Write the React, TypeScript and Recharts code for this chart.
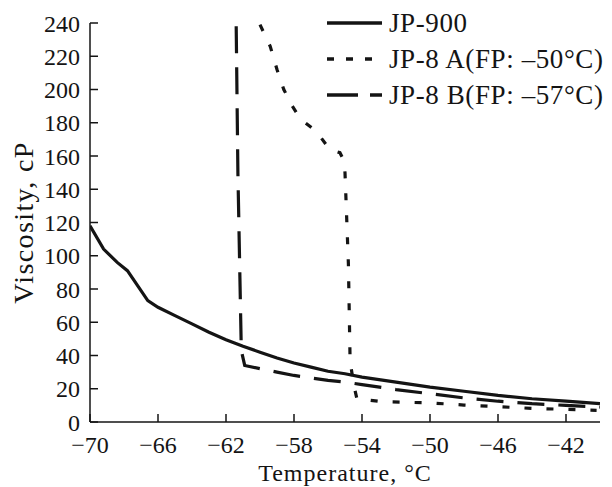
import React from 'react';
import { Label, Legend, Line, LineChart, XAxis, YAxis } from 'recharts';

const xTicks = [-70, -66, -62, -58, -54, -50, -46, -42];
const yTicks = [0, 20, 40, 60, 80, 100, 120, 140, 160, 180, 200, 220, 240];

const jp900Temp = [-70, -69.2, -68.4, -67.8, -67.2, -66.6, -66, -65, -64, -63, -62, -61, -60, -59, -58, -57, -56, -55, -54, -52, -50, -48, -46, -44, -42, -40];
const jp900Visc = [118, 104, 96, 91, 82, 73, 69, 64, 59, 54, 49.5, 45.5, 42, 38.5, 35.5, 33, 30.5, 29, 27, 24, 21, 18.5, 16, 14, 12.5, 11];

const jp8aTemp = [-60, -59.4, -59, -58.6, -58.1, -57.6, -56.7, -55.9, -55.3, -55.1, -55, -54.8, -54.7, -54.5, -54.3, -52.8, -50, -48, -46, -44, -42, -40.2];
const jp8aVisc = [239, 226, 212, 200, 190, 182, 175, 164, 162, 158, 150, 95, 37, 23, 14, 12.2, 11.5, 10.2, 9.2, 8.2, 7.6, 7];

const jp8bTemp = [-61.4, -61.3, -61.1, -60.9, -59, -58, -57, -56, -55, -54, -52, -50, -48, -46, -44, -42, -40];
const jp8bVisc = [238, 150, 43, 34, 30, 28, 26.5, 25, 24, 22.5, 19.5, 17, 14.5, 12.5, 11, 10, 9];

const seriesNames = ['JP-900', 'JP-8 A(FP: –50°C)', 'JP-8 B(FP: –57°C)'];
const seriesDash = ['', '7 15', '27 14'];

const toPoints = (t: number[], v: number[]) => t.map((temp, i) => ({ temp, visc: v[i] }));

const fontFamily = '"Liberation Serif", "Times New Roman", serif';
const ink = '#141414';

const LegendBox = () => (
  <div style={{ fontFamily, fontSize: 27, letterSpacing: 0.6, color: ink }}>
    {seriesNames.map((name, i) => (
      <div key={name} style={{ display: 'flex', alignItems: 'center', height: 36 }}>
        <svg width={64} height={10}>
          <line x1={2} y1={5} x2={57} y2={5} stroke={ink} strokeWidth={3.5} strokeDasharray={i === 2 ? '31 12' : i === 1 ? '7 12' : undefined} />
        </svg>
        <span style={{ whiteSpace: 'nowrap' }}>{name}</span>
      </div>
    ))}
  </div>
);

export default function App() {
  const lines = [
    toPoints(jp900Temp, jp900Visc),
    toPoints(jp8aTemp, jp8aVisc),
    toPoints(jp8bTemp, jp8bVisc),
  ];
  const tickStyle = { fontFamily, fontSize: 24, fill: ink };
  return (
    <div style={{ position: 'absolute', left: 0, top: 0 }}>
      <LineChart width={612} height={487} margin={{ top: 23, right: 12, bottom: 0, left: 0 }}>
        <XAxis
          type="number"
          dataKey="temp"
          domain={[-70, -40]}
          ticks={xTicks}
          allowDataOverflow
          height={65}
          tickSize={-8}
          tickMargin={22}
          tick={tickStyle}
          stroke={ink}
          strokeWidth={1.5}
          tickFormatter={(v: number) => String(v).replace('-', '\u2212')}
        >
          <Label value="Temperature, °C" position="insideBottom" offset={6} style={{ fontFamily, fontSize: 24, letterSpacing: 1, fill: ink }} />
        </XAxis>
        <YAxis
          type="number"
          dataKey="visc"
          domain={[0, 240]}
          ticks={yTicks}
          allowDataOverflow
          width={90}
          tickSize={-8}
          tickMargin={18}
          tick={tickStyle}
          stroke={ink}
          strokeWidth={1.5}
        >
          <Label value="Viscosity, cP" angle={-90} position="insideLeft" offset={23} style={{ fontFamily, fontSize: 28, letterSpacing: 1.4, fill: ink, textAnchor: 'middle' }} />
        </YAxis>
        <Legend layout="vertical" align="center" verticalAlign="middle" content={<LegendBox />} wrapperStyle={{ left: 325, top: 5, width: 290 }} />
        {lines.map((d, i) => (
          <Line
            key={seriesNames[i]}
            data={d}
            dataKey="visc"
            name={seriesNames[i]}
            type="linear"
            stroke={ink}
            strokeWidth={3.2}
            strokeDasharray={seriesDash[i] || undefined}
            dot={false}
            isAnimationActive={false}
          />
        ))}
      </LineChart>
    </div>
  );
}
